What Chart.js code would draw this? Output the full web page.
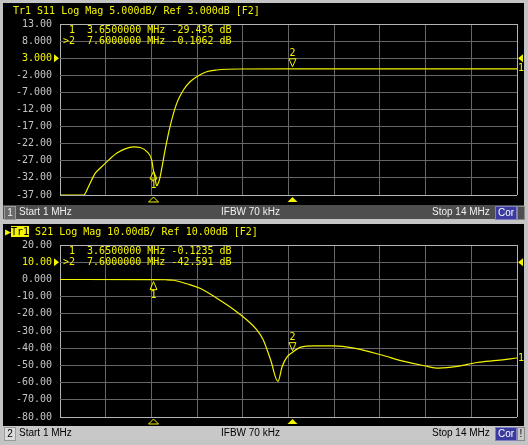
<!DOCTYPE html>
<html>
<head>
<meta charset="utf-8">
<script src="https://cdn.jsdelivr.net/npm/chart.js@4/dist/chart.umd.min.js"></script>
<style>
body{margin:0;width:528px;height:445px;overflow:hidden;position:relative;background:#c4c4c4;font-family:"DejaVu Sans Mono",monospace}
.panel{position:absolute;left:3px;width:521px;background:#000}
canvas{position:absolute;left:0}
.title{position:absolute;left:13px;font:10px "DejaVu Sans Mono";color:#f4f400;line-height:10px;white-space:pre}
.hl{background:#f4f400;color:#000}
.bar{position:absolute;left:3px;width:521px;height:14px;font:10px "Liberation Sans",Arial,sans-serif;line-height:14px}
.bar span{position:absolute;top:0}
.dark{background:#4e4e4e;color:#f0f0f0}
.light{background:#c8c8c8;color:#000}
.num{left:1px;width:10px;height:12px!important;top:1px!important;line-height:12px;text-align:center;border:1px solid #9a9a9a}
.dark .num{background:#6a6a6a}
.light .num{background:#dcdcdc}
.cor{left:492px;width:20px;height:12px;top:1px!important;line-height:12px;text-align:center;background:#3a3aa0;color:#fff;border:1px solid #8080c0}
.end{left:514px;width:6px;height:12px;top:1px!important;line-height:12px;border:1px solid #8a8a8a;text-align:center}
</style>
</head>
<body>
<div class="panel" style="top:3px;height:202px"></div>
<div class="panel" style="top:224px;height:202px"></div>
<!-- canvases run a bit under the status bars: chart.js keeps ~15px below the plot -->
<canvas id="s11" width="528" height="211" style="top:0"></canvas>
<canvas id="s21" width="528" height="209" style="top:224px"></canvas>
<div class="title" style="top:6px">Tr1 S11 Log Mag 5.000dB/ Ref 3.000dB [F2]</div>
<div class="title" style="top:227px;left:5px">&#9654;<span class="hl">Tr1</span> S21 Log Mag 10.00dB/ Ref 10.00dB [F2]</div>
<div class="bar dark" id="bar1" style="top:205px"></div>
<div class="bar light" id="bar2" style="top:426px"></div>
<script>
const startMHz = 1
const stopMHz = 14
const ifbw = "IFBW 70 kHz"

// S11 trace
const s11Freq = [1.0, 1.68, 1.79, 2.0, 2.17, 2.33, 2.61, 2.85, 3.09, 3.28, 3.47, 3.61, 3.65, 3.70, 3.75, 3.80, 3.85, 3.99, 4.13, 4.32, 4.51, 4.70, 4.89, 5.17, 5.46, 6.12, 7.6, 10.0, 14.0]
const s11Db = [-37, -37, -35.0, -30.7, -28.9, -27.3, -24.8, -23.5, -22.9, -23.1, -24.3, -26.8, -29.436, -31.8, -34.3, -33.4, -31.6, -23.8, -17.0, -10.2, -6.3, -3.9, -2.4, -0.95, -0.45, -0.16, -0.1062, -0.1, -0.1]

// S21 trace
const s21Freq = [1.0, 3.65, 4.0, 4.24, 4.6, 4.98, 5.46, 5.93, 6.31, 6.60, 6.78, 6.99, 7.20, 7.32, 7.47, 7.6, 7.85, 8.23, 8.80, 9.36, 10.12, 10.79, 11.36, 11.78, 12.30, 12.87, 13.44, 14.0]
const s21Db = [-0.05, -0.1235, -0.2, -0.5, -2.5, -5.1, -10.9, -17.3, -23.5, -29.3, -35.1, -46.7, -59.3, -50.6, -44.8, -42.591, -39.4, -38.6, -38.6, -40.0, -43.8, -47.7, -50.2, -51.6, -50.6, -48.3, -47.1, -45.7]

const markerFreq = [3.65, 7.6]
const s11Marker = [-29.436, -0.1062]
const s21Marker = [-0.1235, -42.591]
const activeMarker = 1

const s11Ticks = [13, 8, 3, -2, -7, -12, -17, -22, -27, -32, -37]
const s21Ticks = [20, 10, 0, -10, -20, -30, -40, -50, -60, -70, -80]
const s11Ref = 3
const s21Ref = 10

const yellow = "#f4f400"
const freqTicks = []
for (let i = 0; i <= 10; i++) freqTicks.push(startMHz + i * (stopMHz - startMHz) / 10)

function fmtDb(v){
    return Math.abs(v) >= 10 ? v.toFixed(3) : v.toFixed(4)
}

function tri(ctx, x, y, w, h, fill){
    // apex at (x,y), base at y+h (h<0 points down)
    ctx.beginPath()
    ctx.moveTo(x, y)
    ctx.lineTo(x - w / 2, y + h)
    ctx.lineTo(x + w / 2, y + h)
    ctx.closePath()
    if (fill) ctx.fill(); else ctx.stroke()
}

const vnaPlugin = {
    id: "vna",
    afterDraw(chart, args, opts){
        const ctx = chart.ctx
        const a = chart.chartArea
        const xs = chart.scales.x, ys = chart.scales.y
        ctx.save()
        ctx.fillStyle = yellow
        ctx.strokeStyle = yellow
        ctx.lineWidth = 1
        ctx.font = '10px "DejaVu Sans Mono"'
        ctx.textBaseline = "middle"
        // marker readout
        ctx.textAlign = "left"
        markerFreq.forEach((f, i) => {
            const t = (i === activeMarker ? ">" : " ") + (i + 1) + "  " + f.toFixed(7) + " MHz " + fmtDb(opts.marker[i]) + " dB"
            ctx.fillText(t, a.left + 3, a.top + 6 + i * 11)
        })
        // markers on trace
        ctx.textAlign = "center"
        markerFreq.forEach((f, i) => {
            const x = Math.round(xs.getPixelForValue(f)) + 0.5
            const y = ys.getPixelForValue(opts.marker[i])
            if (i === activeMarker){
                tri(ctx, x, y - 2, 7, -8, false)
                ctx.fillText(String(i + 1), x, y - 15)
            } else {
                tri(ctx, x, y + 2, 7, 8, false)
                ctx.fillText(String(i + 1), x, y + 16)
            }
            // stimulus markers below the grid
            tri(ctx, x, a.bottom + 2, 10, 5, i === activeMarker)
        })
        // reference level arrows
        const ry = ys.getPixelForValue(opts.ref)
        ctx.beginPath()
        ctx.moveTo(a.left - 1, ry); ctx.lineTo(a.left - 6, ry - 4); ctx.lineTo(a.left - 6, ry + 4); ctx.closePath(); ctx.fill()
        ctx.beginPath()
        ctx.moveTo(a.right + 1, ry); ctx.lineTo(a.right + 6, ry - 4); ctx.lineTo(a.right + 6, ry + 4); ctx.closePath(); ctx.fill()
        // trace number at the end of the trace
        const data = chart.data.datasets[0].data
        ctx.textAlign = "left"
        ctx.fillText("1", a.right + 1, ys.getPixelForValue(data[data.length - 1].y))
        ctx.restore()
    }
}

function makeChart(id, freq, db, ticks, ref, marker, pad){
    const last = ticks.length - 1
    return new Chart(document.getElementById(id), {
        type: "line",
        data: {
            datasets: [{
                data: freq.map((f, i) => ({x: f, y: db[i]})),
                borderColor: yellow,
                borderWidth: 1.2,
                pointRadius: 0,
                cubicInterpolationMode: "monotone"
            }]
        },
        options: {
            responsive: false,
            animation: false,
            layout: {padding: pad},
            plugins: {legend: {display: false}, tooltip: {enabled: false}, vna: {ref: ref, marker: marker}},
            scales: {
                x: {
                    type: "linear", min: startMHz, max: stopMHz,
                    afterBuildTicks: s => { s.ticks = freqTicks.map(v => ({value: v})) },
                    afterFit: s => { s.height = 0 },
                    ticks: {display: false},
                    border: {display: false},
                    grid: {drawTicks: false, color: c => (c.index === 0 || c.index === 10) ? "#b4b4b4" : "#666666"}
                },
                y: {
                    min: ticks[last], max: ticks[0],
                    afterBuildTicks: s => { s.ticks = ticks.map(v => ({value: v})) },
                    afterFit: s => { s.width = 60 },
                    border: {display: false},
                    grid: {drawTicks: false, color: c => (c.index === 0 || c.index === last) ? "#b4b4b4" : "#666666"},
                    ticks: {
                        padding: 8,
                        font: {family: "DejaVu Sans Mono", size: 10},
                        color: c => c.tick.value === ref ? yellow : "#c4c4c4",
                        callback: v => Number(v).toPrecision(4)
                    }
                }
            }
        },
        plugins: [vnaPlugin]
    })
}

makeChart("s11", s11Freq, s11Db, s11Ticks, s11Ref, s11Marker, {left: 0, top: 24, right: 11, bottom: 16})
makeChart("s21", s21Freq, s21Db, s21Ticks, s21Ref, s21Marker, {left: 0, top: 21, right: 11, bottom: 16})

function fillBar(id, n, last){
    document.getElementById(id).innerHTML =
        '<span class="num">' + n + '</span>' +
        '<span style="left:16px">Start ' + startMHz + ' MHz</span>' +
        '<span style="left:218px">' + ifbw + '</span>' +
        '<span style="left:429px">Stop ' + stopMHz + ' MHz</span>' +
        '<span class="cor">Cor</span>' +
        '<span class="end">' + last + '</span>'
}
fillBar("bar1", 1, "")
fillBar("bar2", 2, "!")
</script>
</body>
</html>
